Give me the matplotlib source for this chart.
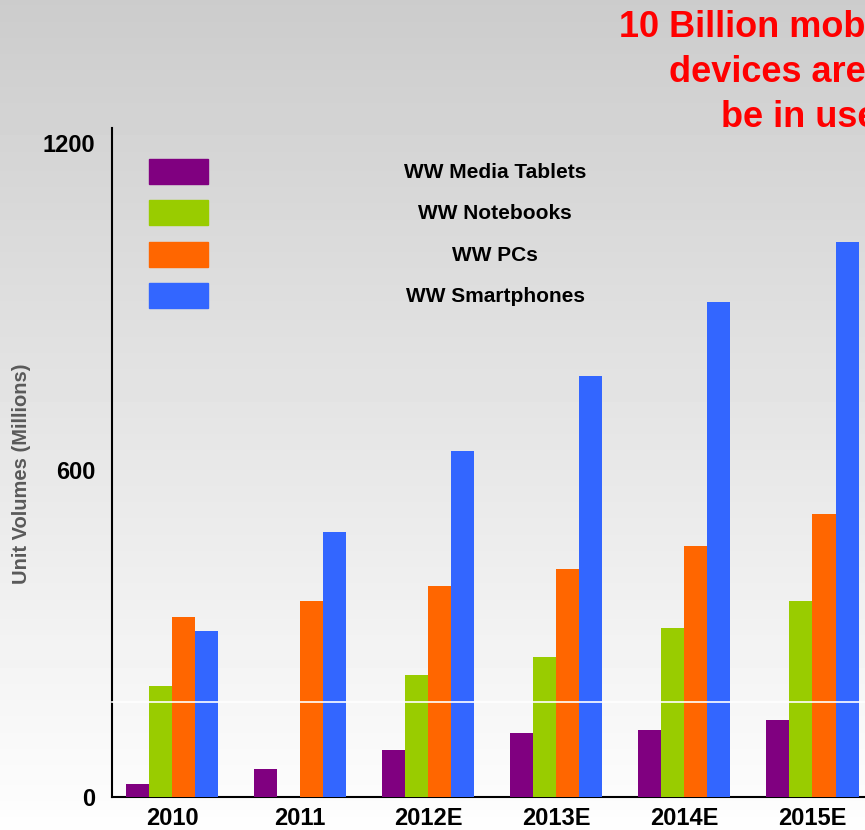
import matplotlib
matplotlib.use('Agg')
import matplotlib.pyplot as plt
import numpy as np
from matplotlib.patches import Rectangle

plt.rcParams['font.family'] = ['Liberation Sans', 'DejaVu Sans']
plt.rcParams['font.weight'] = 'bold'

years = ['2010', '2011', '2012E', '2013E', '2014E', '2015E']
tablets = [24, 51, 86, 117, 123, 141]
notebooks = [203, 0, 224, 257, 310, 359]
pcs = [330, 359, 387, 418, 460, 519]
smartphones = [304, 486, 634, 773, 907, 1017]

series_names = ['WW Media Tablets', 'WW Notebooks', 'WW PCs', 'WW Smartphones']
colors = ['#800080', '#99cc00', '#ff6600', '#3366ff']
title_lines = ['10 Billion mobile', 'devices are expected to', 'be in use by 2016']

W, H = 865, 830
fig = plt.figure(figsize=(W / 100, H / 100), dpi=100)

def fx(x):
    return x / W

def fy(y):
    return 1 - y / H

# grey-to-white background
bg = fig.add_axes([0, 0, 1, 1], zorder=-10)
grad = np.linspace(0.80, 0.995, 256).reshape(-1, 1)
bg.imshow(grad, cmap='gray', vmin=0, vmax=1, aspect='auto', extent=[0, 1, 0, 1])
bg.axis('off')

ax = fig.add_axes([fx(112), fy(797), 1 - fx(112), (797 - 128) / H])
ax.set_facecolor('none')

x = np.arange(len(years))
w = 0.18
for i, vals in enumerate([tablets, notebooks, pcs, smartphones]):
    ax.bar(x + (i - 1.5) * w, vals, w, color=colors[i], zorder=3)

ax.set_xlim(-0.468, 5.41)
ax.set_ylim(0, 1227)
ax.set_yticks([0, 600, 1200])
ax.set_xticks(x)
ax.set_xticklabels(years)
ax.tick_params(length=0, labelsize=17)
ax.tick_params(axis='y', pad=12)
ax.tick_params(axis='x', pad=7)
for s in ['top', 'right']:
    ax.spines[s].set_visible(False)
for s in ['left', 'bottom']:
    ax.spines[s].set_linewidth(1.5)

fig.text(fx(22), fy(474), 'Unit Volumes (Millions)', rotation=90, ha='center', va='center',
         fontsize=14.5, color='#595959', fontweight='bold')

# white line across the bars
ax.axhline(174, color='white', lw=1.2, zorder=6, clip_on=False)

# legend
for i, name in enumerate(series_names):
    top = 159 + i * 41.5
    fig.patches.append(Rectangle((fx(149), fy(top + 25)), fx(59), 25 / H,
                                 transform=fig.transFigure, color=colors[i]))
    fig.text(fx(495), fy(top + 13), name, ha='center', va='center', fontsize=15)

# title (cut off at right edge, as in the original slide)
for line, (tx, ty) in zip(title_lines, [(619, 37), (669, 82), (721, 127)]):
    fig.text(fx(tx), fy(ty), line, ha='left', va='baseline', fontsize=26, color='red')

fig.savefig('out.png', dpi=100)
